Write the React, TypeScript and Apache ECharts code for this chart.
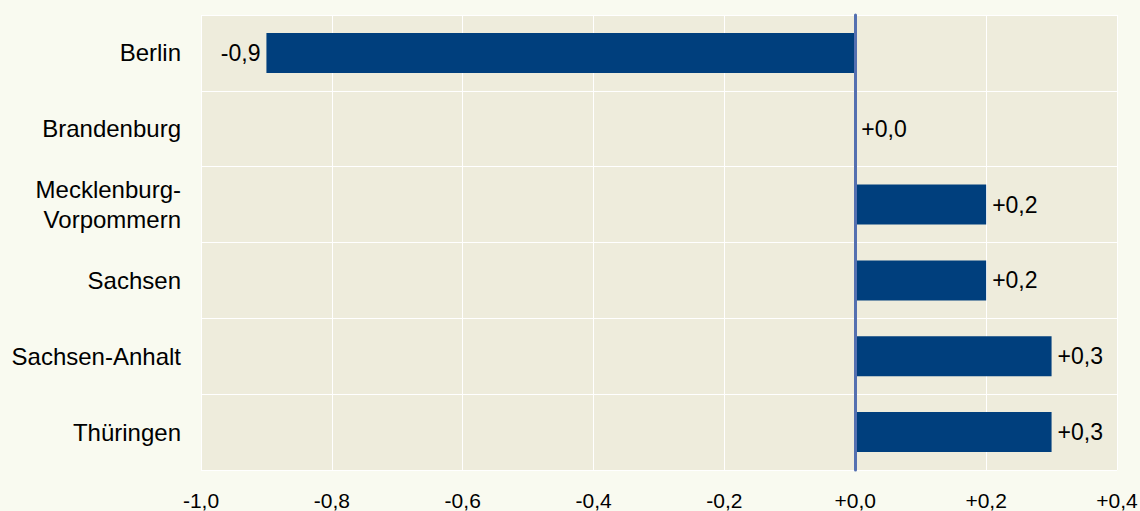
import React, { useEffect, useRef } from "react";
import * as echarts from "echarts";

const categories = [
  "Berlin",
  "Brandenburg",
  "Mecklenburg-\nVorpommern",
  "Sachsen",
  "Sachsen-Anhalt",
  "Thüringen",
];
const values = [-0.9, 0.0, 0.2, 0.2, 0.3, 0.3];
const xMin = -1.0;
const xMax = 0.4;
const xStep = 0.2;

const fmt = (v: number) => {
  const s = Math.abs(v).toFixed(1).replace(".", ",");
  return v < 0 ? "-" + s : "+" + s;
};

export default function App() {
  const ref = useRef<HTMLDivElement>(null);
  useEffect(() => {
    document.body.style.margin = "0";
    const chart = echarts.init(ref.current!, undefined, { renderer: "svg" });
    const font = "Liberation Sans, Arial, sans-serif";
    chart.setOption({
      animation: false,
      backgroundColor: "#f9faf0",
      grid: {
        left: 201,
        right: 23,
        top: 15,
        bottom: 41,
        show: true,
        backgroundColor: "#eeecdc",
        borderWidth: 0,
        containLabel: false,
        outerBoundsMode: "none",
      },
      xAxis: {
        type: "value",
        min: xMin,
        max: xMax,
        interval: xStep,
        axisLine: { show: false },
        axisTick: { show: false },
        splitLine: { show: true, lineStyle: { color: "#ffffff", width: 1 } },
        axisLabel: {
          margin: 20,
          fontSize: 21,
          fontFamily: font,
          color: "#000",
          formatter: (v: number) => fmt(Math.round(v * 10) / 10),
        },
      },
      yAxis: {
        type: "category",
        data: categories,
        inverse: true,
        axisLine: {
          show: true,
          onZero: true,
          lineStyle: { color: "#5470b0", width: 3 },
        },
        axisTick: { show: false },
        splitLine: { show: true, lineStyle: { color: "#ffffff", width: 1 } },
        axisLabel: {
          margin: 20,
          fontSize: 24,
          lineHeight: 30,
          fontFamily: font,
          color: "#000",
          align: "right",
        },
        z: 5,
      },
      series: [
        {
          type: "bar",
          data: values.map((v) => ({
            value: v,
            label: {
              show: true,
              position: v < 0 ? "left" : "right",
              distance: 6,
              formatter: () => fmt(v),
            },
          })),
          barWidth: 40,
          itemStyle: { color: "#003f7d" },
          label: {
            fontSize: 23,
            fontFamily: font,
            color: "#000",
          },
          z: 2,
        },
      ],
    });
    return () => chart.dispose();
  }, []);
  return <div ref={ref} style={{ width: 1140, height: 511 }} />;
}
